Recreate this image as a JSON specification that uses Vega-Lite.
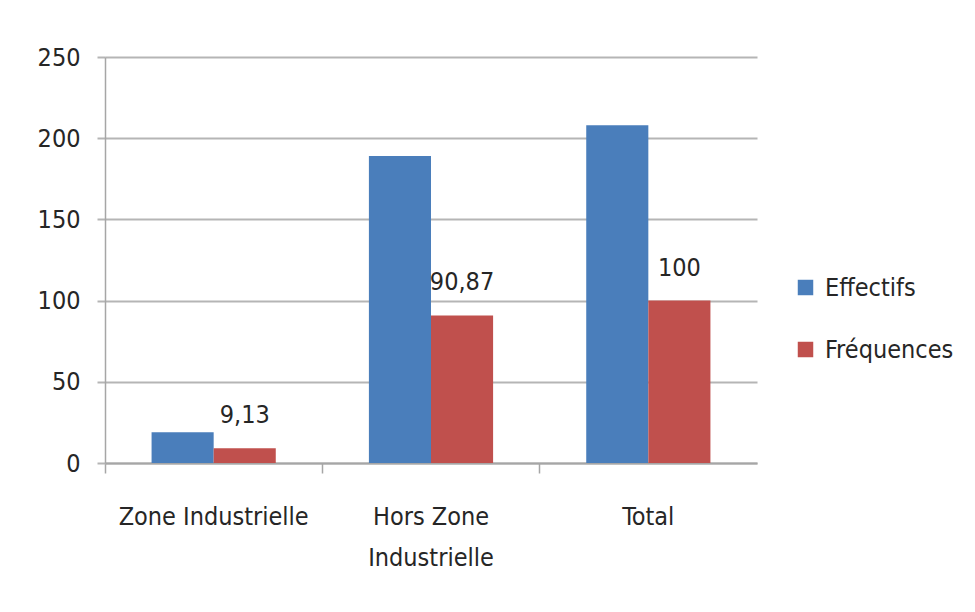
{
  "$schema": "https://vega.github.io/schema/vega-lite/v6.json",
  "autosize": "none",
  "padding": {"left": 105, "top": 57, "right": 218, "bottom": 149},
  "width": 652,
  "height": 406,
  "background": "white",
  "data": {
    "values": [
      {"zone": "Zone Industrielle", "serie": "Effectifs", "valeur": 19, "label": "19"},
      {"zone": "Zone Industrielle", "serie": "Fréquences", "valeur": 9.13, "label": "9,13"},
      {"zone": "Hors Zone Industrielle", "serie": "Effectifs", "valeur": 189, "label": "189"},
      {"zone": "Hors Zone Industrielle", "serie": "Fréquences", "valeur": 90.87, "label": "90,87"},
      {"zone": "Total", "serie": "Effectifs", "valeur": 208, "label": "208"},
      {"zone": "Total", "serie": "Fréquences", "valeur": 100, "label": "100"}
    ]
  },
  "encoding": {
    "x": {
      "field": "zone",
      "type": "nominal",
      "sort": ["Zone Industrielle", "Hors Zone Industrielle", "Total"],
      "scale": {"paddingInner": 0, "paddingOuter": 0},
      "axis": {
        "title": null,
        "labelAngle": 0,
        "bandPosition": 0,
        "labelLimit": 0,
        "labelExpr": "datum.label == 'Hors Zone Industrielle' ? ['Hors Zone', 'Industrielle'] : datum.label",
        "labelLineHeight": 41,
        "labelPadding": 31,
        "tickSize": 10,
        "tickColor": "#a6a6a6",
        "tickWidth": 1.5,
        "domainColor": "#a6a6a6",
        "domainWidth": 2
      }
    },
    "xOffset": {
      "field": "serie",
      "type": "nominal",
      "sort": ["Effectifs", "Fréquences"],
      "scale": {"paddingInner": 0, "paddingOuter": 0.75}
    }
  },
  "layer": [
    {
      "mark": {"type": "bar"},
      "encoding": {
        "y": {
          "field": "valeur",
          "type": "quantitative",
          "scale": {"domain": [0, 250], "nice": false},
          "axis": {
            "title": null,
            "values": [0, 50, 100, 150, 200, 250],
            "grid": true,
            "gridColor": "#b5b5b5",
            "gridWidth": 2,
            "tickSize": 8,
            "tickColor": "#b5b5b5",
            "tickWidth": 2,
            "domainColor": "#a6a6a6",
            "domainWidth": 1.5,
            "labelPadding": 17
          }
        },
        "color": {
          "field": "serie",
          "type": "nominal",
          "sort": ["Effectifs", "Fréquences"],
          "scale": {"domain": ["Effectifs", "Fréquences"], "range": ["#4a7ebb", "#c0504d"]},
          "legend": {
            "title": null,
            "orient": "none",
            "legendX": 688,
            "legendY": 218,
            "symbolType": "square",
            "symbolSize": 240,
            "symbolStrokeWidth": 0,
            "labelFontSize": 25,
            "labelOffset": 7,
            "labelLimit": 0,
            "rowPadding": 36
          }
        }
      }
    },
    {
      "transform": [{"filter": "datum.serie == 'Fréquences'"}],
      "mark": {"type": "text", "baseline": "middle", "align": "center", "dy": -33, "fontSize": 25, "font": "'DejaVu Sans Condensed', 'Liberation Sans Narrow', Lato, sans-serif", "color": "#262626"},
      "encoding": {
        "y": {"field": "valeur", "type": "quantitative"},
        "text": {"field": "label"}
      }
    }
  ],
  "config": {
    "font": "'DejaVu Sans Condensed', 'Liberation Sans Narrow', Lato, sans-serif",
    "view": {"stroke": null},
    "axis": {
      "labelFont": "'DejaVu Sans Condensed', 'Liberation Sans Narrow', Lato, sans-serif",
      "labelFontSize": 25,
      "labelColor": "#262626"
    },
    "legend": {
      "labelFont": "'DejaVu Sans Condensed', 'Liberation Sans Narrow', Lato, sans-serif",
      "labelColor": "#262626"
    }
  }
}
